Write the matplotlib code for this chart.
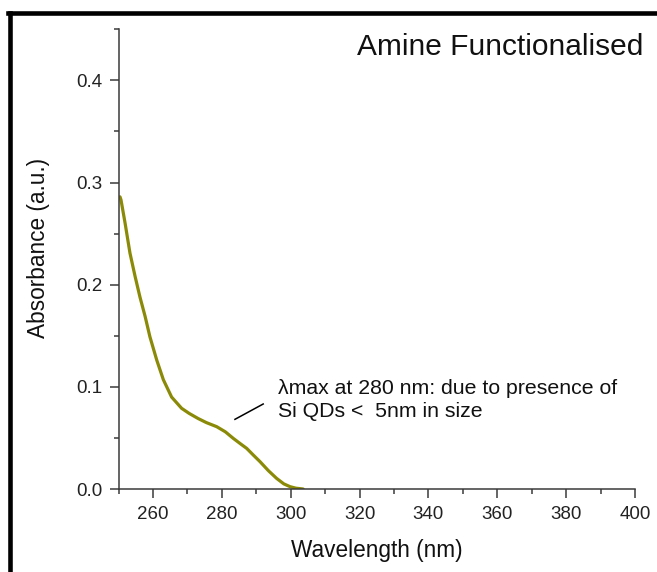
import matplotlib
matplotlib.use('Agg')
import matplotlib.pyplot as plt
import numpy as np
from matplotlib.lines import Line2D
from matplotlib.ticker import MultipleLocator

plt.rcParams['font.family'] = ['Liberation Sans', 'DejaVu Sans']

# absorbance spectrum
wavelength = [250.4, 250.7, 251.9, 253.3, 254.8, 256.2, 257.7, 259.1, 261.1, 263.0,
              265.4, 268.3, 270.5, 273.1, 275.5, 278.5, 281.0, 283.3, 285.5, 287.2,
              289.2, 291.1, 293.5, 295.9, 298.0, 299.8, 301.5, 303.6]
absorbance = [0.286, 0.283, 0.260, 0.231, 0.208, 0.188, 0.169, 0.149, 0.126, 0.107,
              0.090, 0.079, 0.074, 0.069, 0.065, 0.061, 0.056, 0.0496, 0.044, 0.0398,
              0.033, 0.0267, 0.018, 0.0104, 0.005, 0.0023, 0.0008, 0.0]

title = 'Amine Functionalised'
note = 'λmax at 280 nm: due to presence of\nSi QDs <  5nm in size'
pointer_x = [283.8, 292.0]
pointer_y = [0.0682, 0.0832]

fig = plt.figure(figsize=(6.57, 5.72), dpi=100)
ax = fig.add_axes([0.1805, 0.1451, 0.786, 0.8037])

ax.plot(wavelength, absorbance, color='#8a8a08', lw=2.3, solid_capstyle='round')
ax.plot(pointer_x, pointer_y, color='black', lw=1.1)
ax.text(296.3, 0.087, note, fontsize=15.3, color='#111111', va='center',
        linespacing=1.3)

ax.set_xlim(250, 400)
ax.set_ylim(0, 0.45)
ax.xaxis.set_major_locator(MultipleLocator(20))
ax.xaxis.set_minor_locator(MultipleLocator(10))
ax.yaxis.set_major_locator(MultipleLocator(0.1))
ax.yaxis.set_minor_locator(MultipleLocator(0.05))
ax.set_xticks([260, 280, 300, 320, 340, 360, 380, 400])
ax.set_yticks([0.0, 0.1, 0.2, 0.3, 0.4])

for s in ['top', 'right']:
    ax.spines[s].set_visible(False)
for s in ['left', 'bottom']:
    ax.spines[s].set_color('#3a3a3a')
    ax.spines[s].set_linewidth(1.1)

ax.tick_params(which='major', direction='out', length=6.5, width=1.1,
               color='#3a3a3a', labelsize=13.5, labelcolor='#222222', pad=5)
ax.tick_params(axis='x', which='major', pad=6)
ax.tick_params(which='minor', direction='out', length=3.5, width=1.1,
               color='#3a3a3a')

ax.set_xlabel('Wavelength (nm)', fontsize=16.3, color='#111111', labelpad=11)
ax.set_ylabel('Absorbance (a.u.)', fontsize=16.3, color='#111111')
ax.yaxis.set_label_coords(-0.133, 0.524)

fig.text(643 / 657, 1 - 55 / 572, title, fontsize=21.5, ha='right', va='baseline',
         color='#111111')

# black frame along left and top edge
fig.add_artist(Line2D([9.7 / 657, 9.7 / 657], [0, 1 - 13 / 572],
                      transform=fig.transFigure, color='black', lw=3.3))
fig.add_artist(Line2D([8 / 657, 1], [1 - 13 / 572, 1 - 13 / 572],
                      transform=fig.transFigure, color='black', lw=3.3))

fig.savefig('out.png', dpi=100)
